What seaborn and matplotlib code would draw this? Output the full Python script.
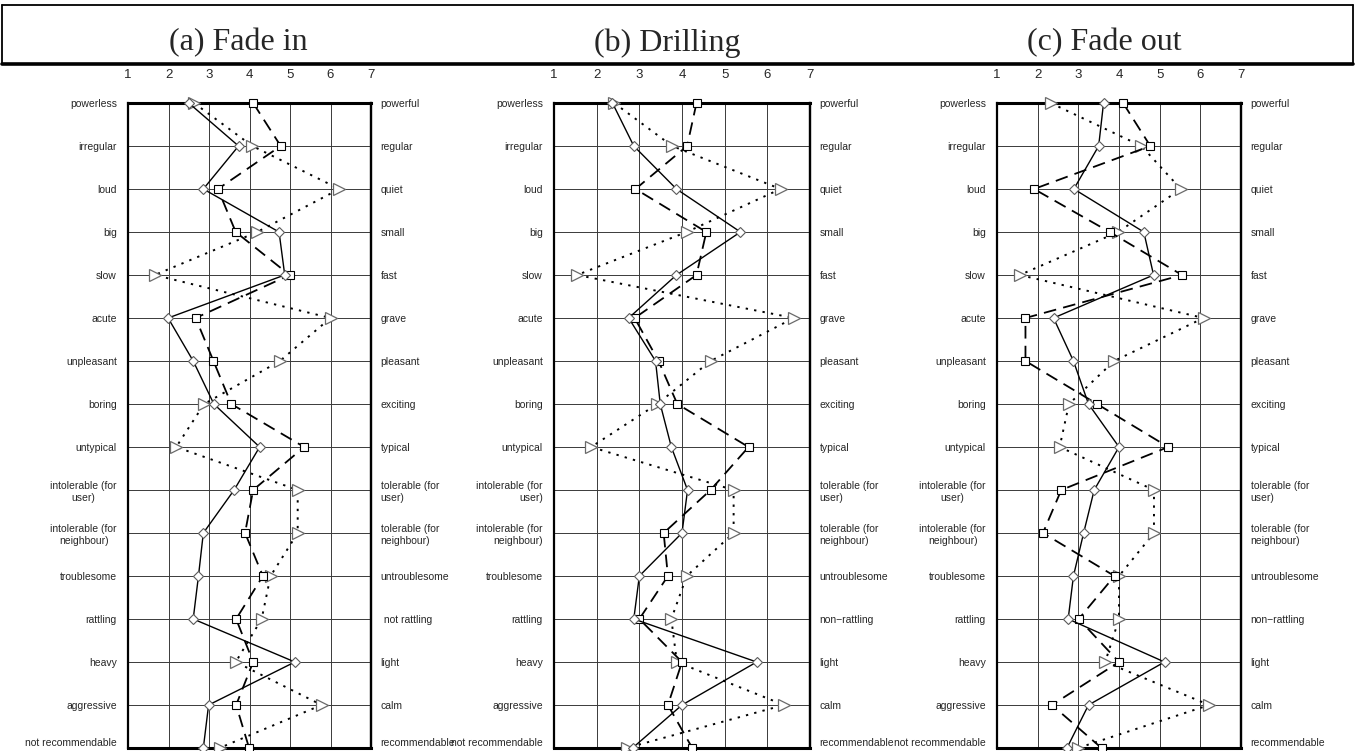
import numpy as np
import pandas as pd
import seaborn as sns
import matplotlib
matplotlib.use("Agg")
import matplotlib.pyplot as plt
from matplotlib.lines import Line2D

# adjective pairs
left_labels = ["powerless", "irregular", "loud", "big", "slow", "acute", "unpleasant", "boring",
               "untypical", "intolerable (for\nuser)", "intolerable (for\nneighbour)", "troublesome",
               "rattling", "heavy", "aggressive", "not recommendable"]
right_labels_a = ["powerful", "regular", "quiet", "small", "fast", "grave", "pleasant", "exciting",
                  "typical", "tolerable (for\nuser)", "tolerable (for\nneighbour)", "untroublesome",
                  " not rattling", "light", "calm", "recommendable"]
right_labels_bc = ["powerful", "regular", "quiet", "small", "fast", "grave", "pleasant", "exciting",
                   "typical", "tolerable (for\nuser)", "tolerable (for\nneighbour)", "untroublesome",
                   "non\u2212rattling", "light", "calm", "recommendable"]
titles = ["(a) Fade in", "(b) Drilling", "(c) Fade out"]
scale_ticks = [1, 2, 3, 4, 5, 6, 7]

# ratings
fade_in_solid = [2.50, 3.73, 2.86, 4.73, 4.87, 1.99, 2.61, 3.12, 4.25, 3.62, 2.86, 2.74, 2.61, 5.12, 2.99, 2.86]
fade_in_dashed = [4.09, 4.77, 3.22, 3.66, 4.99, 2.67, 3.11, 3.55, 5.35, 4.09, 3.89, 4.33, 3.67, 4.09, 3.67, 3.99]
fade_in_dotted = [2.63, 4.07, 6.22, 4.19, 1.66, 6.00, 4.75, 2.88, 2.19, 5.19, 5.19, 4.52, 4.30, 3.66, 5.78, 3.26]

drilling_solid = [2.37, 2.87, 3.87, 5.37, 3.87, 2.75, 3.38, 3.49, 3.75, 4.13, 4.00, 3.00, 2.87, 5.75, 4.00, 2.84]
drilling_dashed = [4.34, 4.12, 2.91, 4.57, 4.34, 2.89, 3.45, 3.89, 5.56, 4.67, 3.57, 3.67, 3.00, 4.00, 3.67, 4.24]
drilling_dotted = [2.41, 3.77, 6.31, 4.11, 1.54, 6.62, 4.67, 3.42, 1.87, 5.21, 5.21, 4.11, 3.75, 3.88, 6.39, 2.70]

fade_out_solid = [3.62, 3.50, 2.89, 4.61, 4.85, 2.39, 2.88, 3.25, 4.00, 3.39, 3.13, 2.88, 2.75, 5.12, 3.25, 2.72]
fade_out_dashed = [4.10, 4.77, 1.91, 3.77, 5.55, 1.70, 1.70, 3.46, 5.21, 2.58, 2.13, 3.89, 3.01, 4.00, 2.35, 3.57]
fade_out_dotted = [2.32, 4.55, 5.52, 3.98, 1.56, 6.08, 3.88, 2.77, 2.54, 4.86, 4.86, 4.00, 4.00, 3.66, 6.22, 2.99]

panels = [
    (fade_in_solid, fade_in_dashed, fade_in_dotted, right_labels_a, "center"),
    (drilling_solid, drilling_dashed, drilling_dotted, right_labels_bc, "right"),
    (fade_out_solid, fade_out_dashed, fade_out_dotted, right_labels_bc, "center"),
]

sns.set_theme(style="white")
plt.rcParams["font.family"] = ["Liberation Sans", "DejaVu Sans"]

W, H = 1356, 751
fig = plt.figure(figsize=(W / 100, H / 100), dpi=100)

# panel boxes in pixels (left, right), rows span y=103..748
boxes = [(128, 371), (554, 810), (997, 1241)]
top_px, bot_px = 103, 748
label_size = 7.5

rows = np.arange(len(left_labels))

for (solid, dashed, dotted, right_labels, malign), (x0, x1) in zip(panels, boxes):
    ax = fig.add_axes([x0 / W, (H - bot_px) / H, (x1 - x0) / W, (bot_px - top_px) / H])
    df = pd.DataFrame({"row": rows, "solid": solid, "dashed": dashed, "dotted": dotted})

    sns.lineplot(data=df, x="dotted", y="row", sort=False, estimator=None, ax=ax, color="black",
                 linestyle=(0, (1.2, 3.2)), lw=1.4, marker=">", markersize=8,
                 markerfacecolor="white", markeredgecolor="#6a6a6a", markeredgewidth=0.9,
                 clip_on=False, zorder=3)
    sns.lineplot(data=df, x="dashed", y="row", sort=False, estimator=None, ax=ax, color="black",
                 linestyle=(0, (7, 4)), lw=1.3, marker="s", markersize=5.5,
                 markerfacecolor="white", markeredgecolor="black", markeredgewidth=0.8,
                 clip_on=False, zorder=4)
    sns.lineplot(data=df, x="solid", y="row", sort=False, estimator=None, ax=ax, color="black",
                 linestyle="-", lw=1.0, marker="D", markersize=5.5,
                 markerfacecolor="white", markeredgecolor="#5a5a5a", markeredgewidth=0.8,
                 clip_on=False, zorder=5)

    ax.set_xlim(1, 7)
    ax.set_ylim(len(left_labels) - 1, 0)
    ax.set_xlabel("")
    ax.set_ylabel("")

    ax.xaxis.tick_top()
    ax.set_xticks(scale_ticks)
    ax.set_xticklabels([str(t) for t in scale_ticks], fontsize=9.5)
    ax.tick_params(axis="x", length=0, pad=15.5, top=True, bottom=False)

    ax.set_yticks(rows)
    ax.set_yticklabels(left_labels, fontsize=label_size)
    ax.tick_params(axis="y", length=0, pad=8, left=True)
    for t in ax.get_yticklabels():
        t.set_multialignment(malign)
    # keep the bottom row text inside the picture
    ax.get_yticklabels()[-1].set_verticalalignment("bottom")

    sec = ax.secondary_yaxis("right")
    sec.set_yticks(rows)
    sec.set_yticklabels(right_labels, fontsize=label_size)
    sec.tick_params(axis="y", length=0, pad=7)
    for t in sec.get_yticklabels():
        t.set_multialignment("left")
    sec.get_yticklabels()[-1].set_verticalalignment("bottom")
    sec.spines["right"].set_linewidth(1.6)

    ax.grid(True, color="#3a3a3a", lw=0.7)
    ax.set_axisbelow(True)
    for side in ["left", "right"]:
        ax.spines[side].set_linewidth(1.6)
        ax.spines[side].set_color("black")
    for side in ["top", "bottom"]:
        ax.spines[side].set_linewidth(2.2)
        ax.spines[side].set_color("black")

# title strip
fx0, fx1 = 2 / W, 1353 / W
fy0, fy1 = 1 - 64 / H, 1 - 5 / H
fig.add_artist(Line2D([fx0, fx1], [fy1, fy1], color="black", lw=1.3, transform=fig.transFigure))
fig.add_artist(Line2D([fx0, fx0], [fy0, fy1], color="black", lw=1.3, transform=fig.transFigure))
fig.add_artist(Line2D([fx1, fx1], [fy0, fy1], color="black", lw=1.3, transform=fig.transFigure))
fig.add_artist(Line2D([fx0, fx1], [fy0, fy0], color="black", lw=2.6, transform=fig.transFigure))

title_x = [238, 667, 1104]
for tx, title in zip(title_x, titles):
    fig.text(tx / W, 1 - 43 / H, title, ha="center", va="center", fontsize=23,
             family=["Liberation Serif", "DejaVu Serif"])

fig.savefig("out.png", dpi=100)
